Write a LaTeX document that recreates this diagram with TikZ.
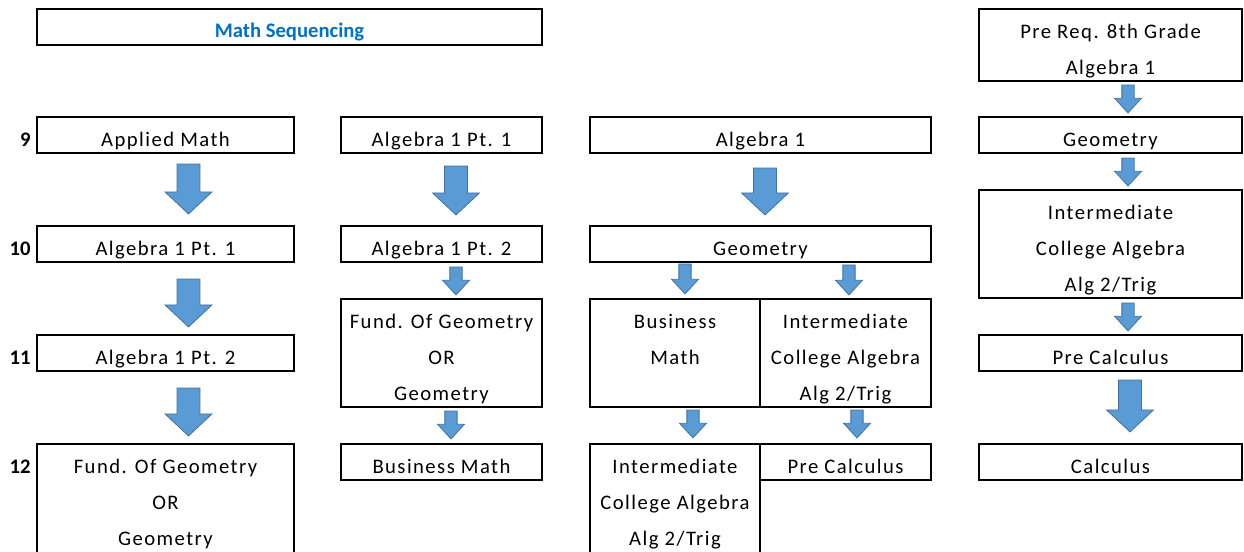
\documentclass[tikz,border=0pt]{standalone}
\usepackage{fontspec}
\setmainfont{Carlito}[LetterSpace=7]
\newfontfamily\plainfont{Carlito}
\usetikzlibrary{calc,fit}
\definecolor{titleblue}{HTML}{0070C0}
\definecolor{arrfill}{HTML}{5B9BD5}
\definecolor{arrline}{HTML}{41719C}
\tikzset{
  box/.style={draw=black, line width=1.6pt, inner sep=0pt},
  txt/.style={anchor=base, inner sep=0pt, font=\fontsize{15.5pt}{18pt}\selectfont},
  lbl/.style={anchor=base east, inner sep=0pt, font=\plainfont\bfseries\fontsize{15.5pt}{18pt}\selectfont},
  blockarrow/.style n args={3}{fill=arrfill, draw=arrline, line width=0.6pt, line join=miter,
    to path={let \p1=(\tikztostart), \p2=(\tikztotarget) in
      (\x1-#1,\y1) -- (\x1+#1,\y1) -- (\x1+#1,\y2+#3) -- (\x1+#2,\y2+#3) -- (\x1,\y2)
      -- (\x1-#2,\y2+#3) -- (\x1-#1,\y2+#3) -- cycle}},
  bigarrow/.style={blockarrow={8.6pt}{17.6pt}{16.5pt}},
  smallarrow/.style={blockarrow={4.6pt}{10.1pt}{11pt}}
}
\begin{document}
\begin{tikzpicture}[x=0.75pt,y=-0.75pt]
\useasboundingbox (0,0) rectangle (1244,552);
\clip (0,0) rectangle (1244,552);

% boxes
\node[box, fit={(37,9) (542,45)}] (title) {};
\node[box, fit={(979,9) (1242,81)}] (pre) {};
\node[box, fit={(37,117) (294,153)}] (a9) {};
\node[box, fit={(341,117) (542,153)}] (b9) {};
\node[box, fit={(590,117) (931,153)}] (c9) {};
\node[box, fit={(979,117) (1242,153)}] (d9) {};
\node[box, fit={(37,226) (294,262)}] (a10) {};
\node[box, fit={(341,226) (542,262)}] (b10) {};
\node[box, fit={(590,226) (931,262)}] (c10) {};
\node[box, fit={(979,190) (1242,298)}] (d10) {};
\node[box, fit={(37,335) (294,371)}] (a11) {};
\node[box, fit={(341,299) (542,407)}] (b11) {};
\node[box, fit={(590,299) (760,407)}] (c11l) {};
\node[box, fit={(760,299) (931,407)}] (c11r) {};
\node[box, fit={(979,335) (1242,371)}] (d11) {};
\node[box, fit={(37,444) (294,566)}] (a12) {};
\node[box, fit={(341,444) (542,480)}] (b12) {};
\node[box, fit={(590,444) (760,566)}] (c12l) {};
\node[box, fit={(760,444) (931,480)}] (c12r) {};
\node[box, fit={(979,444) (1242,480)}] (d12) {};

% texts
\node[txt, font=\plainfont\bfseries\fontsize{15.5pt}{18pt}\selectfont, text=titleblue] (titlet) at ($(title.north)+(0,30)$) {Math Sequencing};
\node[txt] (pret1) at ($(pre.north)+(0,31)$) {Pre Req. 8th Grade};
\node[txt] (pret2) at ($(pre.north)+(0,67)$) {Algebra 1};
\node[txt] (a9t) at ($(a9.north)+(0,31)$) {Applied Math};
\node[txt] (b9t) at ($(b9.north)+(0,31)$) {Algebra 1 Pt. 1};
\node[txt] (c9t) at ($(c9.north)+(0,31)$) {Algebra 1};
\node[txt] (d9t) at ($(d9.north)+(0,31)$) {Geometry};
\node[txt] (a10t) at ($(a10.north)+(0,31)$) {Algebra 1 Pt. 1};
\node[txt] (b10t) at ($(b10.north)+(0,31)$) {Algebra 1 Pt. 2};
\node[txt] (c10t) at ($(c10.north)+(0,31)$) {Geometry};
\node[txt] (d10t1) at ($(d10.north)+(0,31)$) {Intermediate};
\node[txt] (d10t2) at ($(d10.north)+(0,67)$) {College Algebra};
\node[txt] (d10t3) at ($(d10.north)+(0,103)$) {Alg 2/Trig};
\node[txt] (a11t) at ($(a11.north)+(0,31)$) {Algebra 1 Pt. 2};
\node[txt] (b11t1) at ($(b11.north)+(0,31)$) {Fund. Of Geometry};
\node[txt] (b11t2) at ($(b11.north)+(0,67)$) {OR};
\node[txt] (b11t3) at ($(b11.north)+(0,103)$) {Geometry};
\node[txt] (c11lt1) at ($(c11l.north)+(0,31)$) {Business};
\node[txt] (c11lt2) at ($(c11l.north)+(0,67)$) {Math};
\node[txt] (c11rt1) at ($(c11r.north)+(0,31)$) {Intermediate};
\node[txt] (c11rt2) at ($(c11r.north)+(0,67)$) {College Algebra};
\node[txt] (c11rt3) at ($(c11r.north)+(0,103)$) {Alg 2/Trig};
\node[txt] (d11t) at ($(d11.north)+(0,31)$) {Pre Calculus};
\node[txt] (a12t1) at ($(a12.north)+(0,31)$) {Fund. Of Geometry};
\node[txt] (a12t2) at ($(a12.north)+(0,67)$) {OR};
\node[txt] (a12t3) at ($(a12.north)+(0,103)$) {Geometry};
\node[txt] (b12t) at ($(b12.north)+(0,31)$) {Business Math};
\node[txt] (c12lt1) at ($(c12l.north)+(0,31)$) {Intermediate};
\node[txt] (c12lt2) at ($(c12l.north)+(0,67)$) {College Algebra};
\node[txt] (c12lt3) at ($(c12l.north)+(0,103)$) {Alg 2/Trig};
\node[txt] (c12rt) at ($(c12r.north)+(0,31)$) {Pre Calculus};
\node[txt] (d12t) at ($(d12.north)+(0,31)$) {Calculus};

% grade labels
\node[lbl] (g9) at ($(a9.north west)+(-5,31)$) {9};
\node[lbl] (g10) at ($(a10.north west)+(-5,31)$) {10};
\node[lbl] (g11) at ($(a11.north west)+(-5,31)$) {11};
\node[lbl] (g12) at ($(a12.north west)+(-5,31)$) {12};

% arrows
\draw[bigarrow] ($(a9.south)+(23,10)$) to ($(a10.north)+(23,-11)$);
\draw[bigarrow] ($(a10.south)+(23,16)$) to ($(a11.north)+(23,-7)$);
\draw[bigarrow] ($(a11.south)+(23,16)$) to ($(a12.north)+(23,-7)$);
\draw[bigarrow] ($(b9.south)+(14.5,12)$) to ($(b10.north)+(14.5,-10)$);
\draw[bigarrow] ($(c9.south)+(4.5,14)$) to ($(c10.north)+(4.5,-10)$);
\draw[bigarrow] ($(d11.south)+(19.5,8)$) to ($(d12.north)+(19.5,-11)$);
\draw[smallarrow] ($(b10.south)+(14.5,4)$) to ($(b11.north)+(14.5,-3)$);
\draw[smallarrow] ($(b11.south)+(9.5,3)$) to ($(b12.north)+(9.5,-4)$);
\draw[smallarrow] ($(c11l.north)+(10,-34)$) to ($(c11l.north)+(10,-4)$);
\draw[smallarrow] ($(c11r.north)+(3.5,-33)$) to ($(c11r.north)+(3.5,-3)$);
\draw[smallarrow] ($(c11l.south)+(18,2)$) to ($(c12l.north)+(18,-5)$);
\draw[smallarrow] ($(c11r.south)+(11.5,2)$) to ($(c12r.north)+(11.5,-5)$);
\draw[smallarrow] ($(pre.south)+(17.5,3)$) to ($(d9.north)+(17.5,-3)$);
\draw[smallarrow] ($(d9.south)+(17.5,4)$) to ($(d10.north)+(17.5,-3)$);
\draw[smallarrow] ($(d10.south)+(17.5,4)$) to ($(d11.north)+(17.5,-3)$);
\end{tikzpicture}
\end{document}
